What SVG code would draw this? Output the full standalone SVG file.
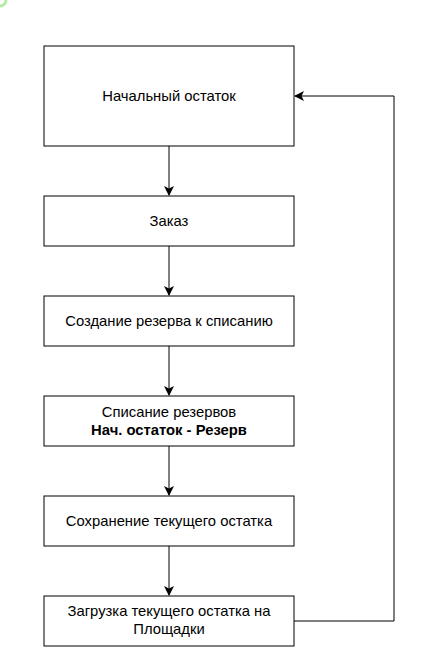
<svg xmlns="http://www.w3.org/2000/svg" width="428" height="663" viewBox="0 0 428 663">
<style>
.box{fill:#fff;stroke:#000;stroke-width:1}
.t{font-family:"Liberation Sans",Arial,sans-serif;font-size:14.8px;fill:#000;text-anchor:middle;dominant-baseline:central}
.b{font-weight:bold}
.c{fill:none;stroke:#000;stroke-width:1}
</style>
<defs>
<marker id="arr" viewBox="0 0 10 10" refX="9" refY="5" markerWidth="10" markerHeight="10" markerUnits="userSpaceOnUse" orient="auto">
<path d="M0,0 L10,5 L0,10 L2.5,5 Z" fill="#000"/>
</marker>
</defs>
<rect width="428" height="663" fill="#fff"/>
<path d="M0,6 A6,6 0 0 0 6,0" fill="none" stroke="#7ee06a" stroke-width="3" opacity="0.6"/>
<g id="connectors">
<path class="c" d="M169,146 V195" marker-end="url(#arr)"/>
<path class="c" d="M169,246 V295" marker-end="url(#arr)"/>
<path class="c" d="M169,346 V395" marker-end="url(#arr)"/>
<path class="c" d="M169,446 V495" marker-end="url(#arr)"/>
<path class="c" d="M169,546 V595" marker-end="url(#arr)"/>
<path class="c" d="M294,621 H394 V96 H295" marker-end="url(#arr)"/>
</g>
<g id="n1"><rect class="box" x="44" y="46" width="250" height="100"/><text class="t" x="169" y="96">Начальный остаток</text></g>
<g id="n2"><rect class="box" x="44" y="196" width="250" height="50"/><text class="t" x="169" y="221">Заказ</text></g>
<g id="n3"><rect class="box" x="44" y="296" width="250" height="50"/><text class="t" x="169" y="321">Создание резерва к списанию</text></g>
<g id="n4"><rect class="box" x="44" y="396" width="250" height="50"/><text class="t" x="169" y="412">Списание резервов</text><text class="t b" x="169" y="430">Нач. остаток - Резерв</text></g>
<g id="n5"><rect class="box" x="44" y="496" width="250" height="50"/><text class="t" x="169" y="521">Сохранение текущего остатка</text></g>
<g id="n6"><rect class="box" x="44" y="596" width="250" height="50"/><text class="t" x="169" y="611">Загрузка текущего остатка на</text><text class="t" x="169" y="629">Площадки</text></g>
</svg>
